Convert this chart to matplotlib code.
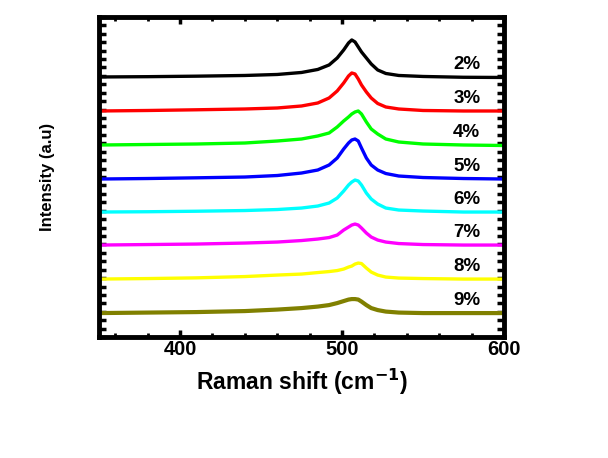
import numpy as np
import matplotlib
matplotlib.use("Agg")
import matplotlib.pyplot as plt
from matplotlib.ticker import MultipleLocator, NullFormatter

plt.rcParams['font.family'] = ['Liberation Sans', 'DejaVu Sans']

# Raman shift grid (cm-1)
shift = [350, 380, 410, 440, 460, 475, 485, 492, 497, 501, 504, 506, 508,
         510, 512, 515, 518, 522, 527, 535, 550, 575, 600]

# intensities (a.u.), one list per doping level
i2 = [0, 0.3, 0.8, 1.5, 2.5, 4.5, 7.5, 12, 19, 27, 34, 37, 35,
      30, 25, 19, 13, 7, 3.5, 1.5, 0.5, -0.3, -0.5]
i3 = [0, 0.5, 1.2, 2, 3, 5, 8, 13, 20, 28, 35, 38, 37,
      32, 26, 19, 13, 7.5, 4, 2, 0.5, 0, 0]
i4 = [0, 0.5, 1, 2, 4, 6, 9, 12, 18, 24, 28, 31, 33,
      34, 31, 23, 16, 11, 6, 3, 1, 0, -0.5]
i5 = [0, 0.5, 1.2, 2, 3.5, 6, 9, 14, 21, 30, 36, 39, 40,
      38, 31, 21, 14, 9, 5.5, 3, 1.5, 0.5, 0]
i6 = [0, 0.3, 0.8, 1.5, 2.5, 4, 6, 9, 14, 21, 27, 30, 32,
      31, 27, 19, 13, 8, 4, 2, 1, 0, 0]
i7 = [0, 0.5, 1, 2, 3, 4.5, 6, 7.5, 10, 15, 18, 20, 21,
      20, 17, 12, 8, 5, 3, 1.5, 0.5, 0, 0]
i8 = [0, 0.5, 1.2, 2.5, 4, 5, 6.5, 7.5, 8.5, 10, 12, 13, 15,
      16, 15.5, 11, 7, 4, 2, 1, 0.5, 0, 0]
i9 = [0, 0.5, 1, 2, 3.5, 5, 6.5, 8, 10, 12, 13.5, 14, 14,
      13.5, 11.5, 8, 5, 3, 1.5, 0.5, 0, 0, 0]

labels = ['2%', '3%', '4%', '5%', '6%', '7%', '8%', '9%']
offsets = [260, 226, 192, 158, 125, 92, 58, 24]
colors = ['black', '#ff0000', '#00ff00', '#0000ff', '#00ffff', '#ff00ff', '#ffff00', '#808000']
series = [i2, i3, i4, i5, i6, i7, i8, i9]

fig = plt.figure(figsize=(6.08, 4.58), dpi=100)
ax = fig.add_axes([0.163, 0.264, 0.666, 0.699])

for y, off, c, lab in zip(series, offsets, colors, labels):
    lw = 3.0 if c == '#808000' else 2.4
    ax.plot(shift, np.array(y) + off, color=c, lw=lw, solid_joinstyle='round')
    ax.text(577, off + 12.5, lab, ha='center', va='center',
            fontsize=13.5, fontweight='bold')

ax.set_xlim(350, 600)
ax.set_ylim(0, 320)

ax.xaxis.set_major_locator(MultipleLocator(100))
ax.xaxis.set_minor_locator(MultipleLocator(20))
ax.set_yticks(np.arange(0, 321, 320 / 38), minor=True)
ax.set_yticks([])
ax.yaxis.set_minor_formatter(NullFormatter())

ax.tick_params(axis='x', which='major', direction='in', length=5, width=2.5,
               top=True, labelsize=14.5, pad=2)
ax.tick_params(axis='x', which='minor', direction='in', length=3, width=2, top=True)
ax.tick_params(axis='y', which='minor', direction='in', length=5, width=2.5,
               left=True, right=True)
for lbl in ax.get_xticklabels():
    lbl.set_fontweight('bold')

for sp in ax.spines.values():
    sp.set_linewidth(3.5)

ax.set_xlabel('Raman shift (cm$^{\\mathbf{-1}}$)', fontsize=16.5, fontweight='bold', labelpad=6)
ax.set_ylabel('Intensity (a.u)', fontsize=12, fontweight='bold', labelpad=28)

fig.savefig('out.png', dpi=100)
